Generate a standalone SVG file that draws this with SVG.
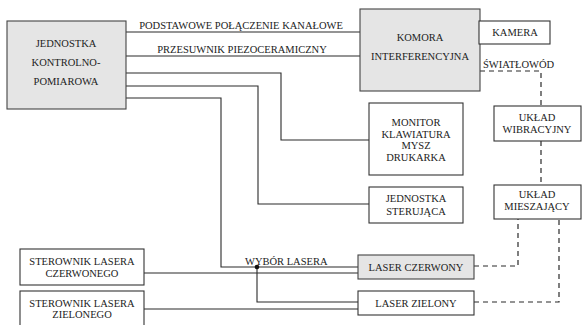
<svg xmlns="http://www.w3.org/2000/svg" width="585" height="325" viewBox="0 0 585 325" font-family="'Liberation Serif', 'DejaVu Serif', serif">
<style>
.box{fill:#ffffff;stroke:#333333;stroke-width:1.1}
.gray{fill:#e5e5e5;stroke:#444444;stroke-width:1.1}
.ln{fill:none;stroke:#2a2a2a;stroke-width:1.1}
.ds{fill:none;stroke:#2a2a2a;stroke-width:1.2;stroke-dasharray:5,4}
text{font-family:'Liberation Serif','DejaVu Serif',serif;font-size:10.5px;fill:#222222;text-anchor:middle}
.l{text-anchor:start}
</style>
<rect width="585" height="325" fill="#ffffff"/>
<g id="connectors">
<path class="ln" d="M126 32H360"/>
<path class="ln" d="M126 56H360"/>
<path class="ln" d="M126 73H281V140H369"/>
<path class="ln" d="M126 86H258V204H369"/>
<path class="ln" d="M126 98H221V267H358"/>
<path class="ln" d="M257 267V302H358"/>
<path class="ln" d="M144 273H358"/>
<path class="ln" d="M144 309H358"/>
<circle cx="257" cy="267" r="2.3" fill="#111111"/>
<path class="ds" d="M480 71H541V106"/>
<path class="ds" d="M541 141V185"/>
<path class="ds" d="M474 266H518V219"/>
<path class="ds" d="M474 302H559V219"/>
<text x="241" y="29">PODSTAWOWE POŁĄCZENIE KANAŁOWE</text>
<text x="242" y="53">PRZESUWNIK PIEZOCERAMICZNY</text>
<text class="l" x="483" y="68">ŚWIATŁOWÓD</text>
<text class="l" x="245" y="265">WYBÓR LASERA</text>
</g>
<g id="jednostka-kontrolno-pomiarowa">
<rect class="gray" x="7" y="21" width="119" height="88"/>
<text x="66" y="47">JEDNOSTKA</text>
<text x="66" y="66">KONTROLNO-</text>
<text x="66" y="85">POMIAROWA</text>
</g>
<g id="komora">
<rect class="gray" x="360" y="9" width="120" height="82"/>
<text x="420" y="41">KOMORA</text>
<text x="420" y="60">INTERFERENCYJNA</text>
</g>
<g id="kamera">
<rect class="box" x="479" y="21" width="71" height="23"/>
<text x="515" y="36">KAMERA</text>
</g>
<g id="monitor">
<rect class="box" x="369" y="103" width="94" height="72"/>
<text x="416" y="126">MONITOR</text>
<text x="416" y="138">KLAWIATURA</text>
<text x="416" y="149">MYSZ</text>
<text x="416" y="161">DRUKARKA</text>
</g>
<g id="jednostka-sterujaca">
<rect class="box" x="369" y="187" width="94" height="36"/>
<text x="416" y="202">JEDNOSTKA</text>
<text x="416" y="215">STERUJĄCA</text>
</g>
<g id="uklad-wibracyjny">
<rect class="box" x="494" y="106" width="87" height="35"/>
<text x="537" y="121">UKŁAD</text>
<text x="537" y="133">WIBRACYJNY</text>
</g>
<g id="uklad-mieszajacy">
<rect class="box" x="494" y="185" width="87" height="34"/>
<text x="537" y="198">UKŁAD</text>
<text x="537" y="210">MIESZAJĄCY</text>
</g>
<g id="laser-czerwony">
<rect class="gray" x="358" y="255" width="116" height="24"/>
<text x="416" y="271">LASER CZERWONY</text>
</g>
<g id="laser-zielony">
<rect class="box" x="358" y="291" width="116" height="24"/>
<text x="416" y="307">LASER ZIELONY</text>
</g>
<g id="sterownik-czerwonego">
<rect class="box" x="20" y="249" width="124" height="36"/>
<text x="82" y="265">STEROWNIK LASERA</text>
<text x="82" y="277">CZERWONEGO</text>
</g>
<g id="sterownik-zielonego">
<rect class="box" x="20" y="291" width="124" height="40"/>
<text x="82" y="307">STEROWNIK LASERA</text>
<text x="82" y="318">ZIELONEGO</text>
</g>
</svg>
